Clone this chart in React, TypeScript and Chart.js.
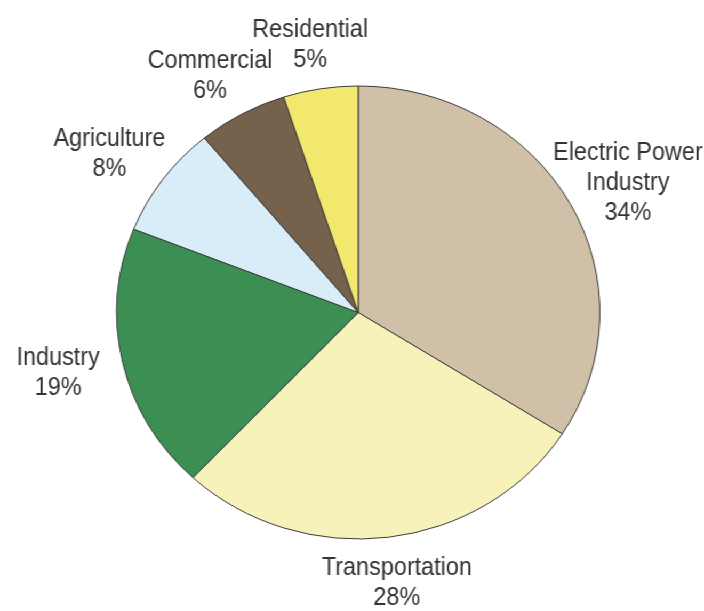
import React, { useEffect, useRef } from "react";
import { Chart, registerables } from "chart.js";

Chart.register(...registerables);

// ---- data ----
const categories: string[] = [
  "Electric Power Industry",
  "Transportation",
  "Industry",
  "Agriculture",
  "Commercial",
  "Residential",
];
const labelLines: string[][] = [
  ["Electric Power", "Industry"],
  ["Transportation"],
  ["Industry"],
  ["Agriculture"],
  ["Commercial"],
  ["Residential"],
];
const shares: number[] = [34, 28, 19, 8, 6, 5];
const sliceColors: string[] = [
  "#D0C0A8",
  "#F7F2BA",
  "#3C8F52",
  "#D9EDF8",
  "#75614C",
  "#F3E86E",
];

// ---- layout (canvas coordinates; canvas is stretched horizontally) ----
const CANVAS_W = 660;
const CANVAS_H = 611;
const STRETCH_X = 704 / 660;
const TEXT_SCALE_X = 0.9 / STRETCH_X;
const FONT_PX = 26;
const LINE_H = 30;
const GAP_X = 66 / STRETCH_X;
const GAP_Y = 45;

const outsideLabels = {
  id: "outsideLabels",
  afterDatasetsDraw(chart: any) {
    const ctx: CanvasRenderingContext2D = chart.ctx;
    const meta = chart.getDatasetMeta(0);
    ctx.save();
    ctx.font = `${FONT_PX}px "Liberation Sans", Arial, sans-serif`;
    ctx.fillStyle = "#333333";
    ctx.textAlign = "center";
    ctx.textBaseline = "alphabetic";
    meta.data.forEach((arc: any, i: number) => {
      const mid = (arc.startAngle + arc.endAngle) / 2;
      const cos = Math.cos(mid);
      const sin = Math.sin(mid);
      const r = arc.outerRadius;
      const cx = arc.x + cos * (r + GAP_X);
      const cy = arc.y + sin * (r + GAP_Y);
      const lines = [...labelLines[i], `${shares[i]}%`];
      const h = lines.length * LINE_H;
      lines.forEach((line, j) => {
        const baseline = cy - h / 2 + 23 + j * LINE_H;
        ctx.save();
        ctx.translate(cx, baseline);
        ctx.scale(TEXT_SCALE_X, 1);
        ctx.fillText(line, 0, 0);
        ctx.restore();
      });
    });
    ctx.restore();
  },
};

export default function App() {
  const canvasRef = useRef<HTMLCanvasElement | null>(null);

  useEffect(() => {
    if (!canvasRef.current) return;
    const chart = new Chart(canvasRef.current, {
      type: "pie",
      data: {
        labels: categories,
        datasets: [
          {
            data: shares,
            backgroundColor: sliceColors,
            borderColor: "#3a3a3a",
            borderWidth: 1,
          },
        ],
      },
      options: {
        animation: false,
        responsive: false,
        devicePixelRatio: 1,
        layout: {
          padding: { left: 108.9, right: 97.1, top: 85.5, bottom: 71.5 },
        },
        plugins: {
          legend: { display: false },
          tooltip: { enabled: false },
        },
      },
      plugins: [outsideLabels],
    });
    return () => chart.destroy();
  }, []);

  return (
    <div
      style={{
        position: "fixed",
        left: 0,
        top: 0,
        width: CANVAS_W,
        height: CANVAS_H,
        transform: `scaleX(${STRETCH_X})`,
        transformOrigin: "0 0",
        background: "#ffffff",
      }}
    >
      <canvas
        ref={canvasRef}
        width={CANVAS_W}
        height={CANVAS_H}
        style={{ width: CANVAS_W, height: CANVAS_H, display: "block" }}
      />
    </div>
  );
}
